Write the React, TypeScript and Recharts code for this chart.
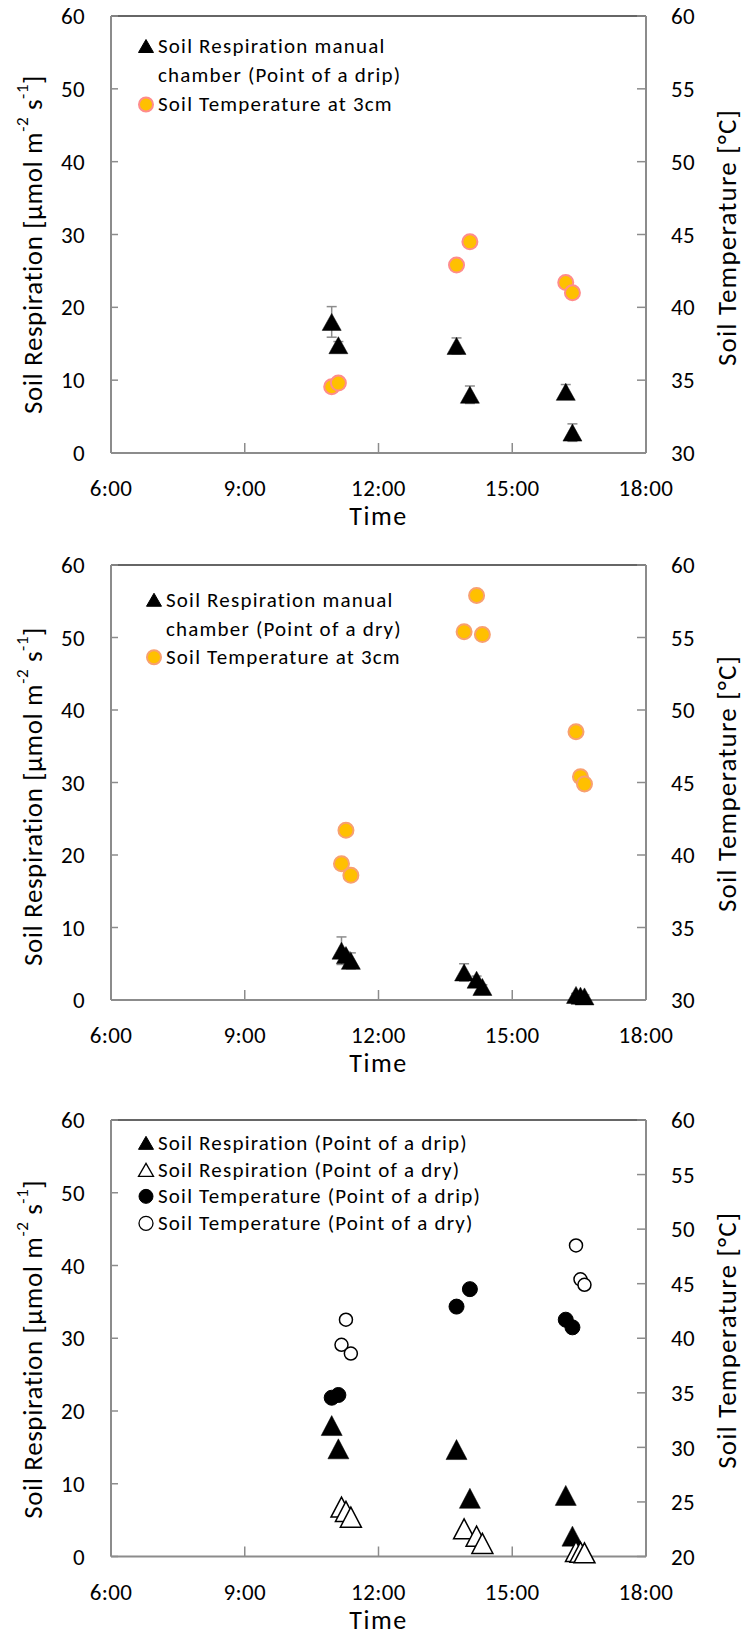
import React from 'react';
import {
  ScatterChart,
  Scatter,
  XAxis,
  YAxis,
  ErrorBar,
  Legend,
  Label,
  ReferenceLine,
} from 'recharts';

// ---------- data ----------
const TIME_TICKS = [6, 9, 12, 15, 18];
const RESP_TICKS = [0, 10, 20, 30, 40, 50, 60];
const TEMP_TICKS_30 = [30, 35, 40, 45, 50, 55, 60];
const TEMP_TICKS_20 = [20, 25, 30, 35, 40, 45, 50, 55, 60];

// point of a drip (hours of day)
const dripTimes = [10.95, 11.1, 13.75, 14.05, 16.2, 16.35];
const dripResp = [18.0, 14.8, 14.7, 8.0, 8.4, 2.8];
const dripRespErr = [2.1, 0.5, 1.1, 1.2, 1.0, 1.2];
const dripTemp = [34.55, 34.8, 42.9, 44.5, 41.7, 41.0];

// point of a dry (hours of day)
const dryTimes = [11.17, 11.27, 11.38, 13.92, 14.2, 14.33, 16.43, 16.53, 16.62];
const dryResp = [6.8, 6.2, 5.4, 3.8, 2.8, 1.8, 0.7, 0.6, 0.5];
const dryRespErr = [1.9, 0.4, 1.1, 1.2, 0.5, 0.3, 0.2, 0.2, 0.2];
const dryTemp = [39.4, 41.7, 38.6, 55.4, 57.9, 55.2, 48.5, 45.4, 44.9];

// ---------- styling ----------
const FONT = "Carlito, Lato, sans-serif";
const AXIS = '#8c8c8c';
const ORANGE = '#FFC000';
const PINK_EDGE = '#FF8C8C';
const SALMON_EDGE = '#F8A070';
const W = 743;
const LEFT_W = 111;
const RIGHT_W = 97;
const X_AXIS_H = 80;

type Pt = { t: number; v: number; e?: number };
const toPoints = (ts: number[], vs: number[], es?: number[]): Pt[] =>
  ts.map((t, i) => ({ t, v: vs[i], e: es ? es[i] : undefined }));

const triangleShape =
  (fill: string, stroke: string, w: number, h: number, sw: number) => (p: any) => {
    const { cx, cy } = p;
    if (cx == null || cy == null) return <g />;
    return (
      <polygon
        points={`${cx},${cy - h / 2} ${cx - w / 2},${cy + h / 2} ${cx + w / 2},${cy + h / 2}`}
        fill={fill}
        stroke={stroke}
        strokeWidth={sw}
      />
    );
  };

const circleShape = (fill: string, stroke: string, r: number, sw: number) => (p: any) => {
  const { cx, cy } = p;
  if (cx == null || cy == null) return <g />;
  return <circle cx={cx} cy={cy} r={r} fill={fill} stroke={stroke} strokeWidth={sw} />;
};

type Marker = { kind: 'tri' | 'circ'; fill: string; stroke: string; sw: number } | null;
type LegendRow = { marker: Marker; text: string };

function LegendList({ rows, rowH, bg, padRight }: { rows: LegendRow[]; rowH: number; bg?: string; padRight?: number }) {
  return (
    <div
      style={{
        background: bg || 'transparent',
        fontFamily: FONT,
        fontSize: 21,
        letterSpacing: 1.2,
        color: '#000',
        whiteSpace: 'nowrap',
        paddingRight: padRight || 0,
      }}
    >
      {rows.map((r, i) => (
        <div key={i} style={{ display: 'flex', alignItems: 'center', height: rowH, lineHeight: `${rowH}px` }}>
          <svg width={20} height={rowH} style={{ flex: 'none', display: 'block' }}>
            {r.marker && r.marker.kind === 'tri' && (
              <polygon
                points={`10,${rowH / 2 - 7} 2.5,${rowH / 2 + 6} 17.5,${rowH / 2 + 6}`}
                fill={r.marker.fill}
                stroke={r.marker.stroke}
                strokeWidth={r.marker.sw}
              />
            )}
            {r.marker && r.marker.kind === 'circ' && (
              <circle cx={10} cy={rowH / 2} r={7} fill={r.marker.fill} stroke={r.marker.stroke} strokeWidth={r.marker.sw} />
            )}
          </svg>
          <span style={{ marginLeft: 2 }}>{r.text}</span>
        </div>
      ))}
    </div>
  );
}

type SeriesDef = {
  data: Pt[];
  axis: 'L' | 'R';
  shape: (p: any) => React.ReactElement;
  withErr?: boolean;
};

type PanelProps = {
  top: number;
  plotTop: number;
  plotH: number;
  tempDomain: [number, number];
  tempTicks: number[];
  series: SeriesDef[];
  legendRows: LegendRow[];
  legendLeft: number;
  legendTop: number;
  legendRowH: number;
  legendBg?: string;
  legendPadRight?: number;
  leftTitleShift: number;
  rightTitleShift: number;
};

const tickStyle = { fill: '#000', fontSize: 23, fontFamily: FONT, letterSpacing: 0.4 };

function Panel(props: PanelProps) {
  const { top, plotTop, plotH, tempDomain, tempTicks, series } = props;
  const H = plotTop + plotH + X_AXIS_H;
  const midY = plotTop + plotH / 2;
  const plotCx = (LEFT_W + (W - RIGHT_W)) / 2;

  const leftTitle = () => {
    const x = 32;
    const y = midY + props.leftTitleShift;
    return (
      <text
        x={x}
        y={y}
        transform={`rotate(-90 ${x} ${y})`}
        textAnchor="middle"
        dominantBaseline="central"
        fontFamily={FONT}
        fontSize={27}
        letterSpacing={0.6}
        fill="#000"
      >
        <tspan>Soil Respiration [µmol m</tspan>
        <tspan fontSize={17} dy={-10}>-2</tspan>
        <tspan dy={10}> s</tspan>
        <tspan fontSize={17} dy={-10}>-1</tspan>
        <tspan dy={10}>]</tspan>
      </text>
    );
  };

  const rightTitle = () => {
    const x = 726;
    const y = midY + props.rightTitleShift;
    return (
      <text
        x={x}
        y={y}
        transform={`rotate(-90 ${x} ${y})`}
        textAnchor="middle"
        dominantBaseline="central"
        fontFamily={FONT}
        fontSize={27}
        letterSpacing={1.2}
        fill="#000"
      >
        Soil Temperature [°C]
      </text>
    );
  };

  const timeTitle = () => (
    <text
      x={plotCx}
      y={plotTop + plotH + 72}
      textAnchor="middle"
      fontFamily={FONT}
      fontSize={26}
      letterSpacing={1.5}
      fill="#000"
    >
      Time
    </text>
  );

  return (
    <div style={{ position: 'absolute', left: 0, top, width: W, height: H }}>
      <ScatterChart width={W} height={H} margin={{ top: plotTop, right: 0, bottom: 0, left: 0 }}>
        <XAxis
          type="number"
          dataKey="t"
          domain={[6, 18]}
          ticks={TIME_TICKS}
          interval={0}
          tickFormatter={(h: number) => `${h}:00`}
          height={X_AXIS_H}
          axisLine={{ stroke: AXIS, strokeWidth: 2 }}
          tickLine={{ stroke: AXIS, strokeWidth: 1.5 }}
          tickSize={-10}
          tickMargin={37}
          tick={tickStyle}
        >
          <Label content={timeTitle} />
        </XAxis>
        <YAxis
          yAxisId="L"
          type="number"
          dataKey="v"
          domain={[0, 60]}
          ticks={RESP_TICKS}
          interval={0}
          width={LEFT_W}
          axisLine={{ stroke: AXIS, strokeWidth: 2 }}
          tickLine={{ stroke: AXIS, strokeWidth: 1.5 }}
          tickSize={-7}
          tickMargin={33}
          tick={tickStyle}
        >
          <Label content={leftTitle} />
        </YAxis>
        <YAxis
          yAxisId="R"
          orientation="right"
          type="number"
          dataKey="v"
          domain={tempDomain}
          ticks={tempTicks}
          interval={0}
          width={RIGHT_W}
          axisLine={{ stroke: AXIS, strokeWidth: 2 }}
          tickLine={{ stroke: AXIS, strokeWidth: 1.5 }}
          tickSize={-9}
          tickMargin={34}
          tick={tickStyle}
        >
          <Label content={rightTitle} />
        </YAxis>
        <ReferenceLine yAxisId="L" y={60} stroke="#333" strokeWidth={1.5} />
        {series.map((s, i) => (
          <Scatter key={i} data={s.data} yAxisId={s.axis} shape={s.shape} isAnimationActive={false}>
            {s.withErr ? (
              <ErrorBar dataKey="e" direction="y" width={5} stroke={AXIS} strokeWidth={1.5} />
            ) : null}
          </Scatter>
        ))}
        <Legend
          layout="vertical"
          align="center"
          verticalAlign="middle"
          wrapperStyle={{ left: props.legendLeft, top: props.legendTop, width: 'auto', height: 'auto' }}
          content={() => (
            <LegendList rows={props.legendRows} rowH={props.legendRowH} bg={props.legendBg} padRight={props.legendPadRight} />
          )}
        />
      </ScatterChart>
    </div>
  );
}

const blackTri = { kind: 'tri' as const, fill: '#000', stroke: '#000', sw: 1 };
const openTri = { kind: 'tri' as const, fill: '#fff', stroke: '#000', sw: 1.3 };
const blackDot = { kind: 'circ' as const, fill: '#000', stroke: '#000', sw: 1 };
const openDot = { kind: 'circ' as const, fill: '#fff', stroke: '#000', sw: 1.3 };

export default function App() {
  return (
    <div style={{ position: 'absolute', left: 0, top: 0, width: W, height: 1633, background: '#fff' }}>
      <Panel
        top={0}
        plotTop={16}
        plotH={437}
        tempDomain={[30, 60]}
        tempTicks={TEMP_TICKS_30}
        series={[
          { data: toPoints(dripTimes, dripResp, dripRespErr), axis: 'L', shape: triangleShape('#000', '#000', 19, 17, 0.5), withErr: true },
          { data: toPoints(dripTimes, dripTemp), axis: 'R', shape: circleShape(ORANGE, PINK_EDGE, 7.5, 2) },
        ]}
        legendRows={[
          { marker: blackTri, text: 'Soil Respiration manual' },
          { marker: null, text: 'chamber (Point of a drip)' },
          { marker: { kind: 'circ', fill: ORANGE, stroke: PINK_EDGE, sw: 2 }, text: 'Soil Temperature at 3cm' },
        ]}
        legendLeft={136}
        legendTop={32}
        legendRowH={29}
        leftTitleShift={10}
        rightTitleShift={3}
      />
      <Panel
        top={540}
        plotTop={25}
        plotH={435}
        tempDomain={[30, 60]}
        tempTicks={TEMP_TICKS_30}
        series={[
          { data: toPoints(dryTimes, dryResp, dryRespErr), axis: 'L', shape: triangleShape('#000', '#000', 19, 17, 0.5), withErr: true },
          { data: toPoints(dryTimes, dryTemp), axis: 'R', shape: circleShape(ORANGE, SALMON_EDGE, 7.5, 2) },
        ]}
        legendRows={[
          { marker: blackTri, text: 'Soil Respiration manual' },
          { marker: null, text: 'chamber (Point of a dry)' },
          { marker: { kind: 'circ', fill: ORANGE, stroke: SALMON_EDGE, sw: 2 }, text: 'Soil Temperature at 3cm' },
        ]}
        legendLeft={144}
        legendTop={46}
        legendRowH={28.5}
        leftTitleShift={14}
        rightTitleShift={1}
      />
      <Panel
        top={1090}
        plotTop={30}
        plotH={436.5}
        tempDomain={[20, 60]}
        tempTicks={TEMP_TICKS_20}
        series={[
          { data: toPoints(dripTimes, dripResp), axis: 'L', shape: triangleShape('#000', '#000', 21, 20, 0.5) },
          { data: toPoints(dryTimes, dryResp), axis: 'L', shape: triangleShape('#fff', '#000', 21, 20, 1.5) },
          { data: toPoints(dripTimes, dripTemp), axis: 'R', shape: circleShape('#000', '#000', 7.5, 1) },
          { data: toPoints(dryTimes, dryTemp), axis: 'R', shape: circleShape('#fff', '#000', 6.5, 1.5) },
        ]}
        legendRows={[
          { marker: blackTri, text: 'Soil Respiration (Point of a drip)' },
          { marker: openTri, text: 'Soil Respiration (Point of a dry)' },
          { marker: blackDot, text: 'Soil Temperature (Point of a drip)' },
          { marker: openDot, text: 'Soil Temperature (Point of a dry)' },
        ]}
        legendLeft={136}
        legendTop={40}
        legendRowH={26.7}
        legendBg="#fff"
        legendPadRight={12}
        leftTitleShift={11}
        rightTitleShift={2}
      />
    </div>
  );
}
